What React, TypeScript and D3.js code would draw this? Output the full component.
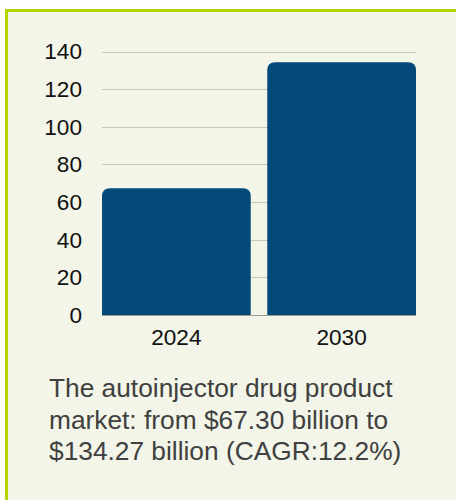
import React from "react";
import * as d3 from "d3";

const categories = ["2024", "2030"];
const values = [67.3, 134.27];
const yTicks = [0, 20, 40, 60, 80, 100, 120, 140];
const captionLines = [
  "The autoinjector drug product",
  "market: from $67.30 billion to",
  "$134.27 billion (CAGR:12.2%)",
];

const W = 456;
const H = 500;

function topRoundedBar(x: number, y: number, w: number, h: number, r: number) {
  const rr = Math.min(r, w / 2, h);
  return `M${x},${y + h}V${y + rr}Q${x},${y} ${x + rr},${y}H${x + w - rr}Q${x + w},${y} ${x + w},${y + rr}V${y + h}Z`;
}

export default function App() {
  const y = d3.scaleLinear().domain([0, 140]).range([315, 51.5]);
  const x = d3
    .scaleBand<string>()
    .domain(categories)
    .range([102, 416])
    .paddingInner(0.1)
    .paddingOuter(0);

  return (
    <svg
      width={W}
      height={H}
      style={{ position: "absolute", left: 0, top: 0, display: "block" }}
      fontFamily="'Liberation Sans', Arial, sans-serif"
    >
      <rect x={0} y={0} width={W} height={H} fill="#ffffff" />
      <rect x={5} y={9} width={W - 5} height={H - 9} fill="#b8d400" />
      <rect x={8} y={12} width={W - 8} height={H - 12} fill="#f2f5e8" />

      {yTicks.map((t) => (
        <line
          key={"g" + t}
          x1={102}
          x2={416}
          y1={Math.round(y(t)) + 0.5}
          y2={Math.round(y(t)) + 0.5}
          stroke={t === 0 ? "#9a9a90" : "#c6c9b9"}
          strokeWidth={1}
        />
      ))}

      {categories.map((c, i) => {
        const bx = x(c) as number;
        const by = y(values[i]);
        return (
          <path
            key={c}
            d={topRoundedBar(bx, by, x.bandwidth(), y(0) - by, 8)}
            fill="#034a7a"
          />
        );
      })}

      {yTicks.map((t) => (
        <text
          key={"t" + t}
          x={82}
          y={y(t)}
          dy="0.35em"
          textAnchor="end"
          fontSize={22.6}
          fill="#111111"
        >
          {t}
        </text>
      ))}

      {categories.map((c) => (
        <text
          key={"x" + c}
          x={(x(c) as number) + x.bandwidth() / 2}
          y={345}
          textAnchor="middle"
          fontSize={22.6}
          fill="#111111"
        >
          {c}
        </text>
      ))}

      {captionLines.map((line, i) => (
        <text key={"c" + i} x={49} y={397 + i * 31.5} fontSize={26.3} fill="#404040">
          {line}
        </text>
      ))}
    </svg>
  );
}
